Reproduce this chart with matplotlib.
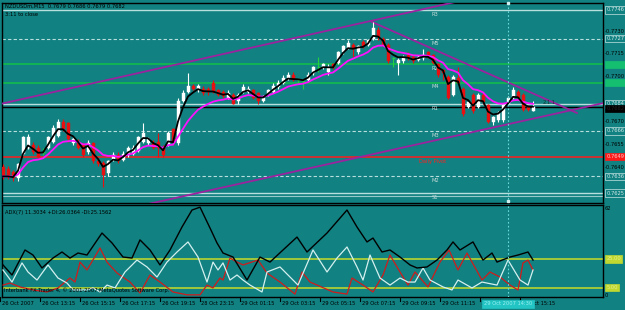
import matplotlib
matplotlib.use("Agg")
import matplotlib.pyplot as plt
import matplotlib.transforms as mtransforms
import numpy as np
import pandas as pd

W, H = 625, 310
BG = '#128181'
LIGHT = '#b8dede'

# ---------------- price data (NZDUSDm, M15) ----------------
opens = [0.7642, 0.7641, 0.7639, 0.7635, 0.7651, 0.7655, 0.7657, 0.7655, 0.7652, 0.7655,
         0.7659, 0.7663, 0.7672, 0.7671, 0.7658, 0.7659, 0.7657, 0.7652, 0.7658, 0.7646,
         0.7645, 0.7638, 0.7647, 0.7650, 0.7647, 0.7650, 0.7651, 0.7653, 0.7659, 0.7658,
         0.7658, 0.7659, 0.7655, 0.7657, 0.7667, 0.7658, 0.7686, 0.7692, 0.7696, 0.7693,
         0.7694, 0.7694, 0.7698, 0.7693, 0.7692, 0.7688, 0.7690, 0.7686, 0.7692, 0.7692,
         0.7693, 0.7691, 0.7686, 0.7690, 0.7692, 0.7695, 0.7698, 0.7701, 0.7703, 0.7700,
         0.7699, 0.7700, 0.7704, 0.7708, 0.7708, 0.7705, 0.7710, 0.7711, 0.7718, 0.7721,
         0.7723, 0.7718, 0.7725, 0.7723, 0.7727, 0.7733, 0.7727, 0.7723, 0.7714, 0.7711,
         0.7712, 0.7716, 0.7715, 0.7713, 0.7714, 0.7718, 0.7716, 0.7710, 0.7706, 0.7702,
         0.7690, 0.7701, 0.7694, 0.7682, 0.7690, 0.7682, 0.7690, 0.7683, 0.7672, 0.7673,
         0.7673, 0.7684, 0.7688, 0.7692, 0.7690, 0.7682, 0.7679]
highs = [0.7644, 0.7643, 0.7640, 0.7645, 0.7663, 0.7664, 0.7659, 0.7657, 0.7655, 0.7663,
         0.7670, 0.7674, 0.7674, 0.7672, 0.7663, 0.7661, 0.7658, 0.7660, 0.7659, 0.7647,
         0.7646, 0.7647, 0.7652, 0.7652, 0.7653, 0.7656, 0.7657, 0.7663, 0.7671, 0.7662,
         0.7660, 0.7665, 0.7657, 0.7666, 0.7668, 0.7688, 0.7693, 0.7704, 0.7697, 0.7697,
         0.7696, 0.7695, 0.7700, 0.7694, 0.7693, 0.7693, 0.7691, 0.7691, 0.7697, 0.7696,
         0.7694, 0.7692, 0.7690, 0.7694, 0.7698, 0.7700, 0.7703, 0.7705, 0.7705, 0.7701,
         0.7700, 0.7705, 0.7709, 0.7715, 0.7711, 0.7710, 0.7711, 0.7719, 0.7723, 0.7726,
         0.7724, 0.7723, 0.7726, 0.7727, 0.7738, 0.7735, 0.7728, 0.7724, 0.7715, 0.7714,
         0.7716, 0.7718, 0.7716, 0.7716, 0.7720, 0.7719, 0.7717, 0.7711, 0.7707, 0.7703,
         0.7703, 0.7708, 0.7695, 0.7686, 0.7691, 0.7691, 0.7691, 0.7684, 0.7676, 0.7679,
         0.7684, 0.7689, 0.7695, 0.7693, 0.7691, 0.7683, 0.7686]
lows = [0.7634, 0.7634, 0.7633, 0.7633, 0.7650, 0.7654, 0.7651, 0.7648, 0.7650, 0.7654,
        0.7658, 0.7662, 0.7666, 0.7659, 0.7657, 0.7654, 0.7649, 0.7651, 0.7645, 0.7643,
        0.7629, 0.7636, 0.7646, 0.7645, 0.7646, 0.7649, 0.7650, 0.7652, 0.7658, 0.7657,
        0.7654, 0.7649, 0.7649, 0.7656, 0.7657, 0.7657, 0.7685, 0.7691, 0.7693, 0.7692,
        0.7690, 0.7690, 0.7691, 0.7689, 0.7688, 0.7687, 0.7684, 0.7684, 0.7691, 0.7691,
        0.7687, 0.7684, 0.7685, 0.7689, 0.7691, 0.7694, 0.7697, 0.7700, 0.7699, 0.7698,
        0.7694, 0.7699, 0.7703, 0.7705, 0.7707, 0.7703, 0.7707, 0.7710, 0.7717, 0.7720,
        0.7715, 0.7717, 0.7721, 0.7722, 0.7726, 0.7726, 0.7722, 0.7711, 0.7708, 0.7703,
        0.7711, 0.7713, 0.7711, 0.7712, 0.7713, 0.7714, 0.7710, 0.7702, 0.7700, 0.7687,
        0.7689, 0.7697, 0.7676, 0.7681, 0.7678, 0.7681, 0.7684, 0.7671, 0.7670, 0.7672,
        0.7672, 0.7683, 0.7687, 0.7687, 0.7679, 0.7679, 0.7679]
closes = [0.7636, 0.7636, 0.7635, 0.7644, 0.7662, 0.7662, 0.7652, 0.7649, 0.7652, 0.7662,
          0.7668, 0.7672, 0.7667, 0.7661, 0.7661, 0.7655, 0.7650, 0.7658, 0.7646, 0.7644,
          0.7637, 0.7646, 0.7650, 0.7646, 0.7651, 0.7655, 0.7655, 0.7662, 0.7665, 0.7661,
          0.7655, 0.7655, 0.7650, 0.7665, 0.7658, 0.7686, 0.7691, 0.7696, 0.7694, 0.7696,
          0.7691, 0.7692, 0.7692, 0.7690, 0.7689, 0.7691, 0.7684, 0.7690, 0.7695, 0.7694,
          0.7688, 0.7686, 0.7688, 0.7693, 0.7696, 0.7698, 0.7701, 0.7703, 0.7700, 0.7700,
          0.7699, 0.7703, 0.7708, 0.7708, 0.7710, 0.7708, 0.7708, 0.7718, 0.7722, 0.7724,
          0.7720, 0.7722, 0.7722, 0.7726, 0.7734, 0.7728, 0.7723, 0.7712, 0.7714, 0.7713,
          0.7715, 0.7714, 0.7712, 0.7715, 0.7716, 0.7715, 0.7711, 0.7703, 0.7704, 0.7688,
          0.7702, 0.7698, 0.7677, 0.7685, 0.7679, 0.7690, 0.7685, 0.7672, 0.7675, 0.7678,
          0.7683, 0.7688, 0.7693, 0.7688, 0.7680, 0.7680, 0.7682]

time_labels = ["26 Oct 2007", "26 Oct 13:15", "26 Oct 15:15", "26 Oct 17:15", "26 Oct 19:15",
               "28 Oct 23:15", "29 Oct 01:15", "29 Oct 03:15", "29 Oct 05:15", "29 Oct 07:15",
               "29 Oct 09:15", "29 Oct 11:15", "29 Oct 13:15", "29 Oct 15:15"]
time_label_bars = [0, 8, 16, 24, 32, 40, 48, 56, 64, 72, 80, 88, 96, 104]

pivot_names = ["R3", "M5", "R2", "M4", "R1", "M3", "Daily Pivot", "M2", "S1"]
pivot_levels = [0.7746, 0.7727, 0.7710, 0.7698, 0.7684, 0.7666, 0.7649, 0.7636, 0.7625]
pivot_styles = ["light", "dash", "green", "green", "light", "dash", "red", "dash", "light"]
bid_price = 0.7682
extra_level = 0.7623
price_ticks = [0.7730, 0.7715, 0.7700, 0.7670, 0.7655, 0.7640]

# trend channel anchors (bar index, price)
upper_line_x = [-0.2, 92.4]
upper_line_y = [0.76841, 0.77527]
lower_line_x = [29.4, 120.0]
lower_line_y = [0.76180, 0.76844]
down_line_x = [73.8, 114.8]
down_line_y = [0.77381, 0.76779]
cross_bar = 101

# ---------------- ADX(7) read points ----------------
adx_x = [0, 1.8, 4.4, 6, 7.8, 10, 11.8, 13.4, 15, 16.8, 19.8, 21.8, 24, 25.8, 27.4, 29.4, 31.4,
         33.4, 35.8, 37.8, 39.4, 41.4, 42.8, 44, 46, 48.8, 51.4, 53.4, 56, 58.8, 60.8, 64.8,
         68.8, 70.8, 72.8, 74, 75.8, 77.4, 79.4, 81.4, 82.8, 84.8, 86.8, 88.8, 90, 91.4, 94,
         96, 97.8, 98.8, 101.4, 103, 105, 106]
adx_v = [20.8, 13.8, 31.2, 27.7, 18.7, 25.6, 29.8, 25.6, 29.1, 27.7, 43.0, 36.1, 26.3, 25.6,
         38.2, 31.2, 20.8, 31.2, 47.2, 59.0, 61.0, 46.5, 36.1, 29.1, 26.3, 10.3, 26.3, 22.8,
         31.2, 40.2, 29.8, 43.0, 59.0, 47.2, 36.8, 39.5, 29.8, 31.2, 26.3, 20.8, 18.7, 19.4,
         24.2, 31.2, 36.8, 31.2, 36.8, 24.2, 29.1, 22.8, 26.3, 27.7, 29.8, 24.2]
pdi_x = [0, 1.8, 3.8, 5, 6.8, 9, 11, 12.8, 14, 16.8, 18, 19.4, 20.8, 22.4, 24.4, 26.8, 28.8,
         30.8, 32.8, 34.8, 37, 39, 40.8, 42, 43, 44, 45.4, 46.8, 48, 49.4, 51.8, 52.8, 55.4,
         59, 62, 64.8, 66.8, 68.8, 70.8, 72.0, 73.4, 75.4, 77.4, 79.4, 81, 82.4, 84, 85.4,
         88, 89.8, 91, 93.8, 95.8, 98.8, 101, 103.4, 105, 106]
pdi_v = [17.3, 8.9, 22.2, 15.9, 10.3, 20.8, 11.7, 8.2, 3.4, 3.4, 4.8, 2.0, 6.8, 4.8, 15.9,
         24.2, 19.4, 12.4, 22.8, 29.8, 36.8, 26.3, 8.9, 22.8, 17.3, 22.2, 10.3, 13.8, 10.3,
         6.8, 2.0, 15.9, 19.4, 6.8, 31.2, 15.9, 25.6, 33.3, 19.4, 10.3, 27.7, 11.7, 6.8, 11.7,
         8.9, 8.9, 18.7, 10.3, 5.5, 3.4, 10.3, 4.8, 8.9, 6.8, 24.2, 10.3, 6.8, 17.3]
mdi_x = [0, 1.4, 3.4, 6, 8.8, 11, 13.4, 14.4, 15.4, 16.8, 19.4, 20.8, 22.8, 25.4, 27.4, 29.4,
         31.4, 34, 36.8, 39.4, 40.8, 42, 43.4, 44, 45.4, 46.8, 48, 51, 52.8, 55.4, 58.4, 59.8,
         61.4, 66, 68.8, 69.8, 72, 74, 76, 77.4, 79.4, 81, 82.4, 85, 87.4, 89.2, 91, 92.8,
         95.8, 97.4, 99.4, 101.4, 103, 104, 105, 106]
mdi_v = [6.8, 8.2, 5.5, 3.4, 2.0, 4.8, 11.7, 8.9, 22.8, 17.3, 32.6, 22.8, 15.2, 8.9, 1.3,
         13.8, 8.9, 2.0, 0.0, 0.0, 6.8, 4.8, 11.7, 10.3, 25.6, 22.8, 20.8, 24.2, 15.2, 8.9,
         0.5, 15.9, 8.9, 2.0, 0.5, 11.7, 6.8, 2.0, 13.8, 27.7, 15.9, 6.8, 15.9, 5.5, 22.8,
         31.2, 17.3, 29.1, 10.3, 15.9, 12.4, 6.8, 3.4, 22.2, 24.2, 17.3]
adx_levels = [25, 5]

plt.rcParams['font.family'] = ['DejaVu Sans']
FS = 3.7

fig = plt.figure(figsize=(W / 100, H / 100), dpi=100, facecolor=BG)

def px_axes(x0, y0, x1, y1):
    return fig.add_axes([x0 / W, 1 - y1 / H, (x1 - x0) / W, (y1 - y0) / H])

ax = px_axes(2, 3, 603, 203)
sub = px_axes(2, 205, 603, 297)
for a in (ax, sub):
    a.set_facecolor(BG)
    a.set_xticks([])
    a.set_yticks([])
    for s in a.spines.values():
        s.set_color('black')
        s.set_linewidth(1.0)

XMIN, XMAX = -0.2, 120.0
YMIN, YMAX = 0.76184, 0.77506
ax.set_xlim(XMIN, XMAX)
ax.set_ylim(YMIN, YMAX)
sub.set_xlim(XMIN, XMAX)
sub.set_ylim(-1.5, 62.5)

n = len(closes)
idx = np.arange(n)
o = np.array(opens); h = np.array(highs); l = np.array(lows); c = np.array(closes)

# horizontal pivot lines
style_map = {"light": dict(color=LIGHT, ls='-', lw=1.0),
             "dash": dict(color=LIGHT, ls=(0, (3, 2)), lw=0.8),
             "green": dict(color='#10b850', ls='-', lw=1.3),
             "red": dict(color='#ff1a1a', ls='-', lw=1.1)}
for lvl, st in zip(pivot_levels, pivot_styles):
    ax.axhline(lvl, zorder=1, **style_map[st])
ax.axhline(extra_level, color=LIGHT, lw=0.8, alpha=0.8, zorder=1)
ax.axhline(bid_price, color='black', lw=1.0, zorder=1)

for name, lvl, st in zip(pivot_names, pivot_levels, pivot_styles):
    col = '#ff2020' if st == 'red' else '#c8dcdc'
    xpos = 83.2 if name == "Daily Pivot" else 85.8
    ax.text(xpos, lvl - 0.00012, name, fontsize=FS, color=col, va='top', ha='left', zorder=2)

# channel lines
for xs, ys in ((upper_line_x, upper_line_y), (lower_line_x, lower_line_y), (down_line_x, down_line_y)):
    ax.plot(xs, ys, color='#9b239f', lw=1.3, zorder=3)
ax.text(108.0, 0.76845, "2.1.1", fontsize=FS, color='#103030', va='center', ha='left', zorder=3)

# moving averages
s = pd.Series(c)
ma_fast = s.ewm(span=3, adjust=False).mean()
ma_slow = s.ewm(span=10, adjust=False).mean()

# candles
bw = 0.6
for i in range(n):
    if abs(c[i] - o[i]) < 0.00005:
        col = '#22d040'
        ax.vlines(i, l[i], h[i], color=col, lw=0.8, zorder=4)
        ax.hlines(o[i], i - bw / 2, i + bw / 2, color=col, lw=1.0, zorder=4)
    elif c[i] > o[i]:
        ax.vlines(i, l[i], h[i], color='white', lw=0.8, zorder=4)
        ax.bar(i, c[i] - o[i], bottom=o[i], width=bw, color='white', edgecolor='white', lw=0.3, zorder=5)
    else:
        ax.vlines(i, l[i], h[i], color='#e81010', lw=0.8, zorder=4)
        ax.bar(i, o[i] - c[i], bottom=c[i], width=bw, color='#e81010', edgecolor='#e81010', lw=0.3, zorder=5)

ax.plot(idx, ma_slow, color='#ff10ff', lw=1.3, zorder=6)
ax.plot(idx, ma_fast, color='black', lw=1.3, zorder=7)

# crosshair
for a in (ax, sub):
    a.axvline(cross_bar, color='#6cd8d8', ls=(0, (1.5, 2)), lw=0.8, zorder=8)
ax.plot([cross_bar, cross_bar], [YMAX, YMIN + 0.0001], ls='none', marker='s', ms=2,
        color='#d0f0f0', clip_on=False, zorder=9)

# right price scale
tr = mtransforms.blended_transform_factory(ax.transAxes, ax.transData)
XR = 1 + 1.5 / 601
for p in price_ticks:
    ax.text(XR, p + 0.00020, "-" + f"{p:.4f}", transform=tr, fontsize=FS, color='black',
            va='center', ha='left', clip_on=False)

def boxlab(a, trans, y, s, fc, ec, tc):
    a.text(XR + 0.003, y, s, transform=trans, fontsize=FS, color=tc, va='center', ha='left',
           clip_on=False, zorder=10,
           bbox=dict(boxstyle='square,pad=0.25', fc=fc, ec=ec, lw=0.5))

for name, lvl, st in zip(pivot_names, pivot_levels, pivot_styles):
    if st == 'green':
        boxlab(ax, tr, lvl, f"{lvl:.4f}", '#14c070', '#14c070', '#14c070')
    elif st == 'red':
        boxlab(ax, tr, lvl, f"{lvl:.4f}", '#ff1a1a', '#ff1a1a', '#f8c8c8')
    else:
        boxlab(ax, tr, lvl, f"{lvl:.4f}", BG, '#c8e4e4', '#d0e8e8')
boxlab(ax, tr, bid_price - 0.00012, f"{bid_price:.4f}", 'black', 'black', '#202020')

# ADX panel
for lv in adx_levels:
    sub.axhline(lv, color='#c8dc28', lw=1.1, zorder=1)
sub.plot(mdi_x, mdi_v, color='#d01c1c', lw=0.9, zorder=3)
sub.plot(pdi_x, pdi_v, color='#d4f0f0', lw=0.9, zorder=4)
sub.plot(adx_x, adx_v, color='black', lw=1.0, zorder=5)

trs = mtransforms.blended_transform_factory(sub.transAxes, sub.transData)
sub.text(XR, 60.0, "62", transform=trs, fontsize=FS, color='black', va='center', ha='left', clip_on=False)
sub.text(XR, -0.5, "0", transform=trs, fontsize=FS, color='black', va='center', ha='left', clip_on=False)
for lv in adx_levels:
    boxlab(sub, trs, lv, f"{lv:.2f}", '#c0d830', '#c0d830', '#e4f090')

sub.text(0.4, 57.5, "ADX(7) 11.3034 +DI:26.0364 -DI:25.1562", fontsize=FS, color='black',
         va='center', ha='left', zorder=6)
sub.text(0.2, 3.2, "Interbank FX Trader 4, \u00a9 2001-2007 MetaQuotes Software Corp.",
         fontsize=FS, color='black', va='center', ha='left', zorder=6)

# time axis
trb = mtransforms.blended_transform_factory(sub.transData, sub.transAxes)
for b, lab in zip(time_label_bars, time_labels):
    xb = b - 0.6
    sub.plot([xb, xb], [0, -0.045], color='black', lw=0.8, transform=trb, clip_on=False)
    sub.text(xb + 0.3, -0.075, lab, transform=trb, fontsize=FS, color='black',
             va='center', ha='left', clip_on=False)
sub.text(cross_bar, -0.075, "29 Oct 2007 14:30", transform=trb, fontsize=FS, color='#9ef0f0',
         va='center', ha='center', clip_on=False, zorder=10,
         bbox=dict(boxstyle='square,pad=0.35', fc='#22c4c4', ec='#22c4c4', lw=0.5))

# titles
ax.text(0.4, YMAX - 0.00008, "NZDUSDm,M15  0.7679 0.7686 0.7679 0.7682", fontsize=FS, color='black',
        va='top', ha='left', zorder=10)
ax.text(0.4, YMAX - 0.00058, "3:11 to close", fontsize=FS, color='black', va='top', ha='left', zorder=10)

fig.savefig("out.png", dpi=100, facecolor=BG)
